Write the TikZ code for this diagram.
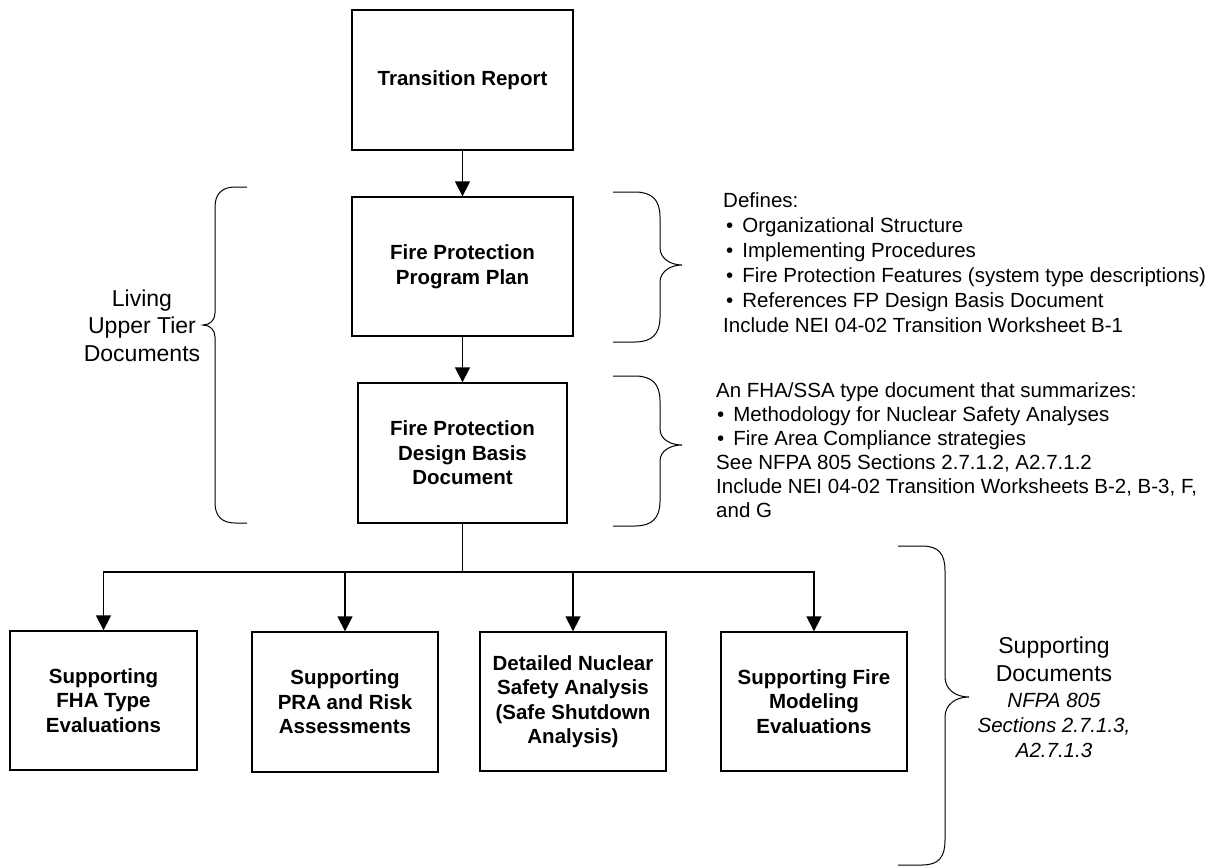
\documentclass[tikz,border=0pt]{standalone}
\usepackage{fontspec}
\setmainfont{Liberation Sans}
\usetikzlibrary{arrows.meta}
\begin{document}
\begin{tikzpicture}[x=1pt,y=-1pt,
  box/.style={draw, line width=1.3pt, inner sep=0pt, align=center,
    font=\bfseries\fontsize{20.5}{24.5}\selectfont},
  conn/.style={line width=1.3pt},
  arr/.style={conn, -{Triangle[width=15pt,length=15pt]}},
  brace/.style={line width=1pt},
  note/.style={inner sep=0pt, align=left, font=\fontsize{20.5}{25}\selectfont},
  biglabel/.style={inner sep=0pt, align=center, font=\fontsize{23}{27.5}\selectfont}]
\useasboundingbox (0,0) rectangle (1220,867);

% main boxes
\node[box, minimum width=221pt, minimum height=140pt] (tr) at (462.5,80) {Transition Report};
\node[box, minimum width=221pt, minimum height=139pt] (fppp) at (462.5,266.5) {Fire Protection\\Program Plan};
\node[box, minimum width=209pt, minimum height=140pt] (fpdbd) at (462.5,453) {Fire Protection\\Design Basis\\Document};

% bottom boxes
\node[box, minimum width=187pt, minimum height=139pt] (sa) at (103.5,700.5) {Supporting\\FHA Type\\Evaluations};
\node[box, minimum width=186pt, minimum height=140pt] (sb) at (345,702) {Supporting\\PRA and Risk\\Assessments};
\node[box, minimum width=186pt, minimum height=139pt] (sc) at (573,701.5) {Detailed Nuclear\\Safety Analysis\\(Safe Shutdown\\Analysis)};
\node[box, minimum width=186pt, minimum height=139pt] (sd) at (814,701.5) {Supporting Fire\\Modeling\\Evaluations};

% connectors
\draw[arr] (tr.south) -- (fppp.north);
\draw[arr] (fppp.south) -- (fpdbd.north);
\coordinate (bus) at (462.5,572);
\draw[conn] (fpdbd.south) -- (bus);
\draw[arr] (bus) -| (sa.north);
\draw[arr] (bus) -| (sb.north);
\draw[arr] (bus) -| (sc.north);
\draw[arr] (bus) -| (sd.north);

% left brace
\draw[brace] (247,187) -- (235,187) .. controls (222,187) and (215,194) .. (215,207)
  -- (215,313) .. controls (215,320) and (210,325) .. (203,325)
  .. controls (210,325) and (215,330) .. (215,337)
  -- (215,503) .. controls (215,516) and (222,523) .. (235,523) -- (247,523);
\node[biglabel] (living) at (142,325.5) {Living\\Upper Tier\\Documents};

% right brace 1
\draw[brace] (613,192) -- (635,192) .. controls (652,192) and (660,200) .. (660,217)
  -- (660,248) .. controls (660,258) and (670,265) .. (682,265)
  .. controls (670,265) and (660,272) .. (660,282)
  -- (660,317) .. controls (660,334) and (652,342) .. (635,342) -- (613,342);
\node[note, anchor=west] (defs) at (723,262.5) {Defines:\\
\hspace*{3pt}•\hspace{9pt}Organizational Structure\\
\hspace*{3pt}•\hspace{9pt}Implementing Procedures\\
\hspace*{3pt}•\hspace{9pt}Fire Protection Features (system type descriptions)\\
\hspace*{3pt}•\hspace{9pt}References FP Design Basis Document\\
Include NEI 04-02 Transition Worksheet B-1};

% right brace 2
\draw[brace] (613,376) -- (635,376) .. controls (652,376) and (660,384) .. (660,401)
  -- (660,429) .. controls (660,439) and (670,445) .. (682,445)
  .. controls (670,445) and (660,451) .. (660,461)
  -- (660,501) .. controls (660,518) and (652,526) .. (635,526) -- (613,526);
\node[note, anchor=west, font=\fontsize{20.5}{24}\selectfont] (summ) at (716,450) {An FHA/SSA type document that summarizes:\\
\hspace*{1pt}•\hspace{9pt}Methodology for Nuclear Safety Analyses\\
\hspace*{1pt}•\hspace{9pt}Fire Area Compliance strategies\\
See NFPA 805 Sections 2.7.1.2, A2.7.1.2\\
Include NEI 04-02 Transition Worksheets B-2, B-3, F,\\
and G};

% bottom brace
\draw[brace] (898,546) -- (922,546) .. controls (939,546) and (945,554) .. (945,571)
  -- (945,677) .. controls (945,689) and (955,697) .. (969,697)
  .. controls (955,697) and (945,705) .. (945,717)
  -- (945,840) .. controls (945,857) and (939,865) .. (922,865) -- (898,865);
\node[biglabel] (suppdocs) at (1054,659.5) {Supporting\\Documents};
\node[inner sep=0pt, align=center, font=\itshape\fontsize{20.5}{25}\selectfont] (suppref) at (1054,725) {NFPA 805\\Sections 2.7.1.3,\\A2.7.1.3};
\end{tikzpicture}
\end{document}
